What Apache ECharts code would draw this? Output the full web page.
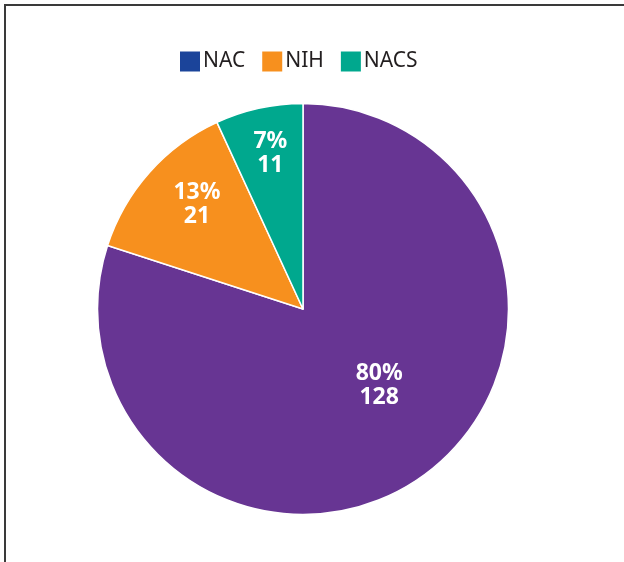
<!DOCTYPE html>
<html>
<head>
<meta charset="utf-8">
<script src="https://cdn.jsdelivr.net/npm/echarts@6/dist/echarts.min.js"></script>
<style>
  html, body { margin: 0; padding: 0; background: #fff; }
  #chart { width: 624px; height: 562px; }
</style>
</head>
<body>
<div id="chart"></div>
<script>
// Funding source breakdown
const categories = ['NAC', 'NIH', 'NACS'];
const counts = [128, 21, 11];
const sliceColors = ['#673593', '#f7901e', '#00a88e'];
const legendColors = ['#1b449a', '#f7901e', '#00a88e'];

// nudges for the in-slice labels, away from the default mid-radius spot
const labelOffsets = [[14, -9], [-27, -34], [-10, -52]];

const chart = echarts.init(document.getElementById('chart'), null, { renderer: 'canvas' });

const pieData = categories.map((name, i) => ({
  name: name,
  value: counts[i],
  itemStyle: { color: sliceColors[i] },
  label: { offset: labelOffsets[i] }
}));

chart.setOption({
  animation: false,
  backgroundColor: '#ffffff',
  graphic: [{
    type: 'polyline',
    shape: { points: [[5, 700], [5, 5], [700, 5]] },
    style: { stroke: '#3a3a3a', lineWidth: 2, fill: null }
  }],
  legend: {
    top: 51,
    left: 180,
    padding: 0,
    itemWidth: 20,
    itemHeight: 20,
    itemGap: 17,
    icon: 'rect',
    itemStyle: { borderWidth: 0 },
    textStyle: { fontFamily: 'Noto Sans', fontSize: 21, color: '#231f20', padding: [0, 0, 0, -2] },
    data: categories.map((name, i) => ({ name: name, itemStyle: { color: legendColors[i], borderWidth: 0 } }))
  },
  series: [{
    type: 'pie',
    center: [303, 309],
    radius: [0, 205.5],
    startAngle: 90,
    clockwise: true,
    percentPrecision: 0,
    avoidLabelOverlap: false,
    itemStyle: { borderColor: '#ffffff', borderWidth: 1.5 },
    label: {
      show: true,
      position: 'inside',
      formatter: '{d}%\n{c}',
      color: '#ffffff',
      fontFamily: 'Noto Sans',
      fontWeight: 'bold',
      fontSize: 23,
      lineHeight: 24
    },
    labelLine: { show: false },
    emphasis: { disabled: true },
    data: pieData
  }]
});
</script>
</body>
</html>
